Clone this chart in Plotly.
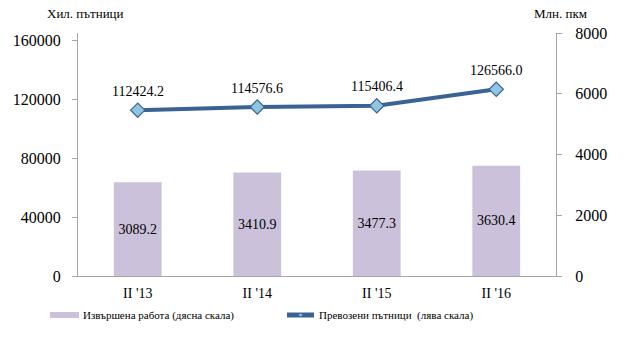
import plotly.graph_objects as go

# Quarterly data: II quarter of each year
categories = ["II '13", "II '14", "II '15", "II '16"]
work_done = [3089.2, 3410.9, 3477.3, 3630.4]             # million pkm (right scale)
passengers = [112424.2, 114576.6, 115406.4, 126566.0]    # thousand passengers (left scale)

left_ticks = [0, 40000, 80000, 120000, 160000]
right_ticks = [0, 2000, 4000, 6000, 8000]

bar_name = "Извършена работа (дясна скала)"
line_name = "Превозени пътници  (лява скала)"

serif = "Liberation Serif, Times New Roman, serif"
bar_color = "#CCC1DA"
line_color = "#3A6293"
marker_fill = "#8EC5DF"
axis_color = "#A6A6A6"

# plot-area geometry in pixels (used to place the hand-drawn legend)
W, H = 630, 349
L, R, T, B = 78, 74, 33, 73
PW, PH = W - L - R, H - T - B


def px(x):
    return (x - L) / PW


def py(y):
    return (H - B - y) / PH


fig = go.Figure()

fig.add_trace(go.Bar(
    x=categories, y=work_done, yaxis="y2",
    name=bar_name,
    marker=dict(color=bar_color, line=dict(width=0)),
    width=0.4,
    text=[f"{v:.1f}" for v in work_done],
    textposition="inside", insidetextanchor="middle",
    textangle=0, constraintext="none",
    textfont=dict(family=serif, size=14, color="black"),
    hoverinfo="skip",
))

fig.add_trace(go.Scatter(
    x=categories, y=passengers, yaxis="y",
    name=line_name,
    mode="lines+markers",
    line=dict(color=line_color, width=4),
    marker=dict(symbol="diamond", size=11, color=marker_fill,
                line=dict(color=line_color, width=1.2)),
    hoverinfo="skip",
))

# value labels above the line points
for c, v in zip(categories, passengers):
    fig.add_annotation(x=c, y=v, xref="x", yref="y", text=f"{v:.1f}",
                       showarrow=False, yshift=19,
                       font=dict(family=serif, size=14, color="black"))

# axis titles
fig.add_annotation(x=0.0, y=1.0, xref="paper", yref="paper", xanchor="center",
                   yanchor="bottom", xshift=7, yshift=10, showarrow=False,
                   text="Хил. пътници", font=dict(family=serif, size=13, color="black"))
fig.add_annotation(x=1.0, y=1.0, xref="paper", yref="paper", xanchor="center",
                   yanchor="bottom", xshift=4, yshift=10, showarrow=False,
                   text="Млн. пкм", font=dict(family=serif, size=13, color="black"))

# legend along the bottom
leg_y = 315
fig.add_shape(type="rect", xref="paper", yref="paper",
              x0=px(50), x1=px(79), y0=py(318), y1=py(312),
              fillcolor=bar_color, line=dict(width=0))
fig.add_annotation(x=px(81), y=py(leg_y), xref="paper", yref="paper",
                   xanchor="left", yanchor="middle", showarrow=False,
                   text=bar_name, font=dict(family=serif, size=11, color="black"))
fig.add_shape(type="line", xref="paper", yref="paper",
              x0=px(287), x1=px(314), y0=py(leg_y), y1=py(leg_y),
              line=dict(color=line_color, width=5))
fig.add_shape(type="path", xref="paper", yref="paper",
              path=(f"M {px(298.5)} {py(leg_y)} L {px(300.5)} {py(leg_y - 1.5)} "
                    f"L {px(302.5)} {py(leg_y)} L {px(300.5)} {py(leg_y + 1.5)} Z"),
              fillcolor=marker_fill, line=dict(width=0))
fig.add_annotation(x=px(317), y=py(leg_y), xref="paper", yref="paper",
                   xanchor="left", yanchor="middle", showarrow=False,
                   text=line_name, font=dict(family=serif, size=11, color="black"))

fig.update_layout(
    width=W, height=H,
    margin=dict(l=L, r=R, t=T, b=B),
    paper_bgcolor="white", plot_bgcolor="white",
    font=dict(family=serif, color="black"),
    showlegend=False,
    xaxis=dict(type="category", showline=True, linecolor=axis_color, linewidth=1,
               ticks="", showgrid=False, tickfont=dict(family=serif, size=14),
               ticklabelstandoff=4),
    yaxis=dict(range=[0, 164750], tickvals=left_ticks, ticktext=[str(t) for t in left_ticks],
               showline=True, linecolor=axis_color, linewidth=1,
               ticks="outside", ticklen=5, tickcolor=axis_color,
               showgrid=False, zeroline=False,
               tickfont=dict(family=serif, size=16), ticklabelstandoff=8),
    yaxis2=dict(range=[0, 8000], tickvals=right_ticks, ticktext=[str(t) for t in right_ticks],
                overlaying="y", side="right",
                showline=True, linecolor=axis_color, linewidth=1,
                ticks="outside", ticklen=5, tickcolor=axis_color,
                showgrid=False, zeroline=False,
                tickfont=dict(family=serif, size=16), ticklabelstandoff=10),
)

fig.write_html("out.html")
